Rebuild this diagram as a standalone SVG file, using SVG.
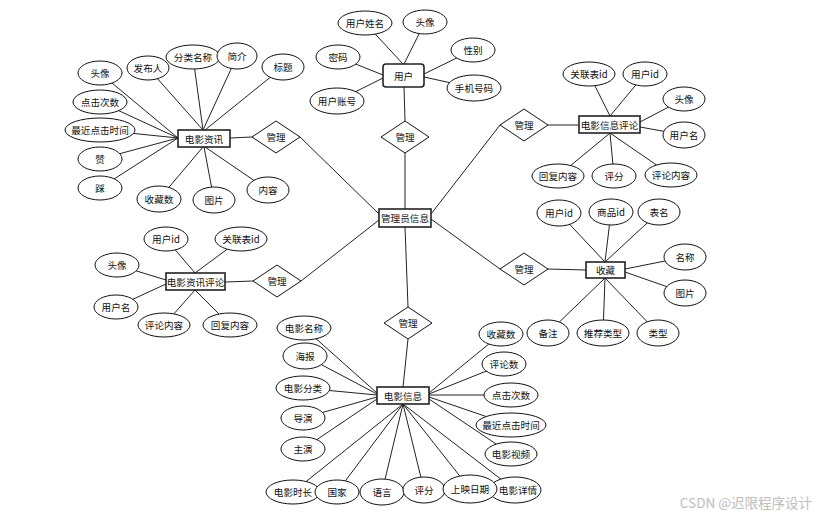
<svg xmlns="http://www.w3.org/2000/svg" width="825" height="520" viewBox="0 0 825 520">
<style>
.c line{stroke:#222;stroke-width:1}
ellipse{fill:#fff;stroke:#111;stroke-width:1}
.ent{fill:#fff;stroke:#222;stroke-width:1.6}
.rel{fill:#fff;stroke:#111;stroke-width:1}
text{font-family:"Noto Sans CJK SC","Noto Sans",sans-serif;font-size:9.6px;fill:#111;text-anchor:middle;dominant-baseline:central}
.wm{font-size:13.5px;fill:#bdbdbd;text-anchor:end}
</style>
<rect width="825" height="520" fill="#fff"/>
<g class="c" id="connectors">
<line x1="230" y1="138" x2="252" y2="137"/>
<line x1="300" y1="137" x2="379" y2="214"/>
<line x1="404" y1="87" x2="405" y2="121"/>
<line x1="405" y1="153" x2="405" y2="209"/>
<line x1="548" y1="125" x2="579" y2="125"/>
<line x1="500" y1="125" x2="431" y2="214"/>
<line x1="548" y1="269" x2="586" y2="270"/>
<line x1="500" y1="269" x2="431" y2="219"/>
<line x1="225" y1="282" x2="253" y2="281"/>
<line x1="301" y1="281" x2="379" y2="220"/>
<line x1="408" y1="307" x2="405" y2="227"/>
<line x1="408" y1="339" x2="403" y2="387"/>
<line x1="100" y1="73" x2="178" y2="138"/>
<line x1="100" y1="102" x2="178" y2="138"/>
<line x1="100" y1="130" x2="178" y2="138"/>
<line x1="100" y1="159" x2="178" y2="138"/>
<line x1="100" y1="188" x2="178" y2="138"/>
<line x1="148" y1="68" x2="203" y2="130"/>
<line x1="193" y1="57" x2="203" y2="130"/>
<line x1="237" y1="56" x2="203" y2="130"/>
<line x1="283" y1="67" x2="205" y2="130"/>
<line x1="159" y1="199" x2="203" y2="147"/>
<line x1="214" y1="200" x2="204" y2="147"/>
<line x1="268" y1="190" x2="205" y2="147"/>
<line x1="365" y1="23" x2="403" y2="64"/>
<line x1="425" y1="22" x2="404" y2="64"/>
<line x1="338" y1="57" x2="383" y2="75"/>
<line x1="337" y1="101" x2="383" y2="78"/>
<line x1="473" y1="50" x2="424" y2="74"/>
<line x1="474" y1="88" x2="424" y2="77"/>
<line x1="589" y1="74" x2="610" y2="116"/>
<line x1="645" y1="74" x2="610" y2="116"/>
<line x1="684" y1="99" x2="640" y2="122"/>
<line x1="684" y1="135" x2="640" y2="127"/>
<line x1="558" y1="176" x2="610" y2="133"/>
<line x1="614" y1="176" x2="610" y2="133"/>
<line x1="671" y1="175" x2="610" y2="133"/>
<line x1="559" y1="213" x2="605" y2="262"/>
<line x1="611" y1="212" x2="605" y2="262"/>
<line x1="659" y1="212" x2="605" y2="262"/>
<line x1="685" y1="257" x2="625" y2="269"/>
<line x1="685" y1="293" x2="625" y2="272"/>
<line x1="548" y1="333" x2="605" y2="278"/>
<line x1="603" y1="333" x2="605" y2="278"/>
<line x1="658" y1="333" x2="605" y2="278"/>
<line x1="166" y1="239" x2="195" y2="273"/>
<line x1="241" y1="239" x2="195" y2="273"/>
<line x1="117" y1="265" x2="166" y2="280"/>
<line x1="116" y1="307" x2="166" y2="284"/>
<line x1="164" y1="325" x2="195" y2="290"/>
<line x1="230" y1="325" x2="195" y2="290"/>
<line x1="304" y1="328" x2="377" y2="393"/>
<line x1="305" y1="356" x2="377" y2="394"/>
<line x1="303" y1="388" x2="377" y2="395"/>
<line x1="303" y1="418" x2="377" y2="397"/>
<line x1="303" y1="449" x2="377" y2="399"/>
<line x1="293" y1="492" x2="403" y2="404"/>
<line x1="337" y1="492" x2="403" y2="404"/>
<line x1="382" y1="492" x2="403" y2="404"/>
<line x1="424" y1="490" x2="403" y2="404"/>
<line x1="470" y1="489" x2="403" y2="404"/>
<line x1="515" y1="490" x2="403" y2="404"/>
<line x1="501" y1="334" x2="429" y2="393"/>
<line x1="504" y1="364" x2="429" y2="394"/>
<line x1="511" y1="395" x2="429" y2="395"/>
<line x1="511" y1="425" x2="429" y2="397"/>
<line x1="511" y1="454" x2="429" y2="399"/>
</g>

<g id="admin"><rect class="ent" x="379" y="209" width="52" height="18"/><text x="405" y="218">管理员信息</text></g>
<g id="movieNews"><rect class="ent" x="178" y="130" width="52" height="17"/><text x="204" y="138.5">电影资讯</text></g>
<g id="user"><rect class="ent" x="383" y="64" width="41" height="23" rx="3"/><text x="403.5" y="75.5">用户</text></g>
<g id="movieInfoComment"><rect class="ent" x="579" y="116" width="61" height="17"/><text x="609.5" y="124.5">电影信息评论</text></g>
<g id="favorite"><rect class="ent" x="586" y="262" width="39" height="16"/><text x="605.5" y="270">收藏</text></g>
<g id="movieNewsComment"><rect class="ent" x="166" y="273" width="59" height="17"/><text x="195.5" y="281.5">电影资讯评论</text></g>
<g id="movieInfo"><rect class="ent" x="377" y="387" width="52" height="17"/><text x="403" y="395.5">电影信息</text></g>

<g id="rel1"><polygon class="rel" points="252,137 276,121 300,137 276,153"/><text x="276" y="137">管理</text></g>
<g id="rel2"><polygon class="rel" points="381,137 405,121 429,137 405,153"/><text x="405" y="137">管理</text></g>
<g id="rel3"><polygon class="rel" points="500,125 524,109 548,125 524,141"/><text x="524" y="125">管理</text></g>
<g id="rel4"><polygon class="rel" points="500,269 524,253 548,269 524,285"/><text x="524" y="269">管理</text></g>
<g id="rel5"><polygon class="rel" points="253,281 277,265 301,281 277,297"/><text x="277" y="281">管理</text></g>
<g id="rel6"><polygon class="rel" points="384,323 408,307 432,323 408,339"/><text x="408" y="323">管理</text></g>

<g id="n_a1"><ellipse cx="100" cy="73" rx="22" ry="12"/><text x="100" y="73">头像</text></g>
<g id="n_a2"><ellipse cx="100" cy="102" rx="27" ry="12"/><text x="100" y="102">点击次数</text></g>
<g id="n_a3"><ellipse cx="100" cy="130" rx="35" ry="12"/><text x="100" y="130">最近点击时间</text></g>
<g id="n_a4"><ellipse cx="100" cy="159" rx="22" ry="12"/><text x="100" y="159">赞</text></g>
<g id="n_a5"><ellipse cx="100" cy="188" rx="22" ry="12"/><text x="100" y="188">踩</text></g>
<g id="n_a6"><ellipse cx="148" cy="68" rx="21" ry="12"/><text x="148" y="68">发布人</text></g>
<g id="n_a7"><ellipse cx="193" cy="57" rx="27" ry="12"/><text x="193" y="57">分类名称</text></g>
<g id="n_a8"><ellipse cx="237" cy="56" rx="20" ry="13"/><text x="237" y="56">简介</text></g>
<g id="n_a9"><ellipse cx="283" cy="67" rx="21" ry="13"/><text x="283" y="67">标题</text></g>
<g id="n_a10"><ellipse cx="159" cy="199" rx="22" ry="13"/><text x="159" y="199">收藏数</text></g>
<g id="n_a11"><ellipse cx="214" cy="200" rx="21" ry="13"/><text x="214" y="200">图片</text></g>
<g id="n_a12"><ellipse cx="268" cy="190" rx="21" ry="13"/><text x="268" y="190">内容</text></g>

<g id="n_u1"><ellipse cx="365" cy="23" rx="27" ry="12"/><text x="365" y="23">用户姓名</text></g>
<g id="n_u2"><ellipse cx="425" cy="22" rx="22" ry="12"/><text x="425" y="22">头像</text></g>
<g id="n_u3"><ellipse cx="338" cy="57" rx="22" ry="12"/><text x="338" y="57">密码</text></g>
<g id="n_u4"><ellipse cx="337" cy="101" rx="27" ry="13"/><text x="337" y="101">用户账号</text></g>
<g id="n_u5"><ellipse cx="473" cy="50" rx="22" ry="12"/><text x="473" y="50">性别</text></g>
<g id="n_u6"><ellipse cx="474" cy="88" rx="27" ry="13"/><text x="474" y="88">手机号码</text></g>

<g id="n_c1"><ellipse cx="589" cy="74" rx="26" ry="12"/><text x="589" y="74">关联表id</text></g>
<g id="n_c2"><ellipse cx="645" cy="74" rx="22" ry="12"/><text x="645" y="74">用户id</text></g>
<g id="n_c3"><ellipse cx="684" cy="99" rx="21" ry="12"/><text x="684" y="99">头像</text></g>
<g id="n_c4"><ellipse cx="684" cy="135" rx="21" ry="13"/><text x="684" y="135">用户名</text></g>
<g id="n_c5"><ellipse cx="558" cy="176" rx="26" ry="12"/><text x="558" y="176">回复内容</text></g>
<g id="n_c6"><ellipse cx="614" cy="176" rx="22" ry="12"/><text x="614" y="176">评分</text></g>
<g id="n_c7"><ellipse cx="671" cy="175" rx="26" ry="12"/><text x="671" y="175">评论内容</text></g>

<g id="n_f1"><ellipse cx="559" cy="213" rx="22" ry="13"/><text x="559" y="213">用户id</text></g>
<g id="n_f2"><ellipse cx="611" cy="212" rx="22" ry="13"/><text x="611" y="212">商品id</text></g>
<g id="n_f3"><ellipse cx="659" cy="212" rx="21" ry="13"/><text x="659" y="212">表名</text></g>
<g id="n_f4"><ellipse cx="685" cy="257" rx="21" ry="13"/><text x="685" y="257">名称</text></g>
<g id="n_f5"><ellipse cx="685" cy="293" rx="21" ry="13"/><text x="685" y="293">图片</text></g>
<g id="n_f6"><ellipse cx="548" cy="333" rx="21" ry="13"/><text x="548" y="333">备注</text></g>
<g id="n_f7"><ellipse cx="603" cy="333" rx="26" ry="13"/><text x="603" y="333">推荐类型</text></g>
<g id="n_f8"><ellipse cx="658" cy="333" rx="21" ry="13"/><text x="658" y="333">类型</text></g>

<g id="n_r1"><ellipse cx="166" cy="239" rx="22" ry="12"/><text x="166" y="239">用户id</text></g>
<g id="n_r2"><ellipse cx="241" cy="239" rx="26" ry="12"/><text x="241" y="239">关联表id</text></g>
<g id="n_r3"><ellipse cx="117" cy="265" rx="22" ry="12"/><text x="117" y="265">头像</text></g>
<g id="n_r4"><ellipse cx="116" cy="307" rx="22" ry="12"/><text x="116" y="307">用户名</text></g>
<g id="n_r5"><ellipse cx="164" cy="325" rx="26" ry="12"/><text x="164" y="325">评论内容</text></g>
<g id="n_r6"><ellipse cx="230" cy="325" rx="27" ry="12"/><text x="230" y="325">回复内容</text></g>

<g id="n_m1"><ellipse cx="304" cy="328" rx="27" ry="12"/><text x="304" y="328">电影名称</text></g>
<g id="n_m2"><ellipse cx="305" cy="356" rx="22" ry="13"/><text x="305" y="356">海报</text></g>
<g id="n_m3"><ellipse cx="303" cy="388" rx="27" ry="12"/><text x="303" y="388">电影分类</text></g>
<g id="n_m4"><ellipse cx="303" cy="418" rx="22" ry="12"/><text x="303" y="418">导演</text></g>
<g id="n_m5"><ellipse cx="303" cy="449" rx="22" ry="12"/><text x="303" y="449">主演</text></g>
<g id="n_m6"><ellipse cx="293" cy="492" rx="27" ry="12"/><text x="293" y="492">电影时长</text></g>
<g id="n_m7"><ellipse cx="337" cy="492" rx="22" ry="12"/><text x="337" y="492">国家</text></g>
<g id="n_m8"><ellipse cx="382" cy="492" rx="22" ry="13"/><text x="382" y="492">语言</text></g>
<g id="n_m9"><ellipse cx="424" cy="490" rx="21" ry="13"/><text x="424" y="490">评分</text></g>
<g id="n_m11"><ellipse cx="515" cy="490" rx="26" ry="13"/><text x="518" y="490">电影详情</text></g>
<g id="n_m10"><ellipse cx="470" cy="489" rx="27" ry="14"/><text x="470" y="489">上映日期</text></g>
<g id="n_m12"><ellipse cx="501" cy="334" rx="22" ry="12"/><text x="501" y="334">收藏数</text></g>
<g id="n_m13"><ellipse cx="504" cy="364" rx="22" ry="12"/><text x="504" y="364">评论数</text></g>
<g id="n_m14"><ellipse cx="511" cy="395" rx="27" ry="12"/><text x="511" y="395">点击次数</text></g>
<g id="n_m15"><ellipse cx="511" cy="425" rx="35" ry="12"/><text x="511" y="425">最近点击时间</text></g>
<g id="n_m16"><ellipse cx="511" cy="454" rx="26" ry="12"/><text x="511" y="454">电影视频</text></g>

<text class="wm" x="812" y="502">CSDN @迟限程序设计</text>
</svg>
